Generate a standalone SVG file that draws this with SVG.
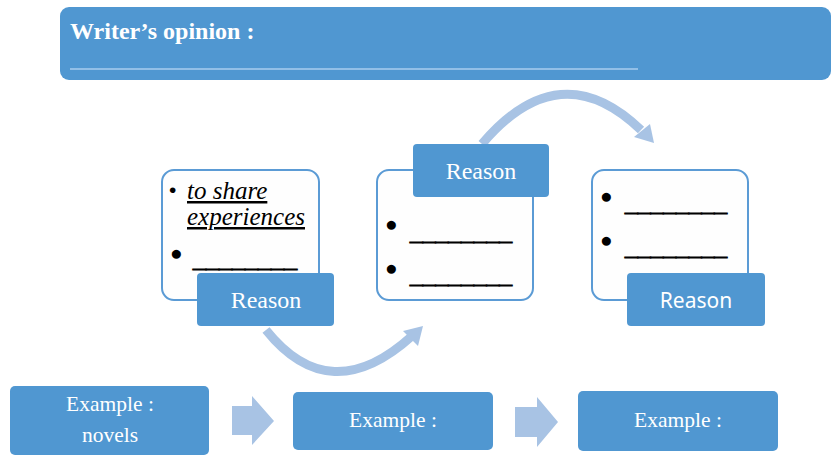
<svg xmlns="http://www.w3.org/2000/svg" width="831" height="457" viewBox="0 0 831 457">
<style>
.blue{fill:#5097d1;}
.card{fill:#fefefe;stroke:#5b9bd5;stroke-width:2;}
.wt{fill:#ffffff;font-family:"Liberation Serif",serif;font-size:24px;text-anchor:middle;}
.ex{fill:#ffffff;font-family:"Liberation Serif",serif;font-size:21.5px;text-anchor:middle;}
.ws{fill:#ffffff;font-family:"Noto Sans","Open Sans",sans-serif;font-size:21px;text-anchor:middle;}
.bul{fill:#000;font-family:"Liberation Sans",sans-serif;font-size:21px;}
.ln{fill:#000;stroke:#000;stroke-width:1.2;font-family:"Liberation Sans",sans-serif;font-size:23px;font-weight:bold;}
.it{fill:#000;font-family:"Liberation Serif",serif;font-style:italic;font-size:25px;text-decoration:underline;}
.arc{fill:none;stroke:#a8c3e4;stroke-width:9;}
.ah{fill:#a8c3e4;}
</style>
<rect width="831" height="457" fill="#ffffff"/>
<g id="opinion">
<rect class="blue" x="60" y="7" width="771" height="73" rx="9"/>
<text x="70" y="39" fill="#fff" font-family="Liberation Serif,serif" font-size="24" font-weight="bold">Writer’s  opinion :</text>
<line x1="70" y1="69" x2="638" y2="69" stroke="#a9cdee" stroke-width="1.5"/>
</g>
<g id="connectors">
<path class="arc" d="M266,330 Q330,410 412,336"/>
<polygon class="ah" points="423,326 403,331 418,346"/>
<path class="arc" d="M482,144 Q560,52 641,130"/>
<polygon class="ah" points="654,143 634,137 650,124"/>
<polygon class="ah" points="232,406 252,406 252,396 274,421 252,445 252,435 232,435"/>
<polygon class="ah" points="515,407 537,407 537,397 558,422 537,447 537,437 515,437"/>
</g>
<g id="reason1">
<rect class="card" x="162" y="170" width="157" height="130" rx="12"/>
<text x="169" y="197" class="bul" font-size="16">•</text>
<text x="187" y="199" class="it">to share</text>
<text x="187" y="225" class="it">experiences</text>
<text x="170" y="260" class="bul">●</text>
<text x="193" y="267" class="ln" textLength="104" lengthAdjust="spacingAndGlyphs">________</text>
<rect class="blue" x="197" y="273" width="137" height="53" rx="4"/>
<text x="266" y="308" class="wt">Reason</text>
</g>
<g id="reason2">
<rect class="card" x="377" y="170" width="156" height="130" rx="12"/>
<text x="385" y="231" class="bul">●</text>
<text x="410" y="240" class="ln" textLength="102" lengthAdjust="spacingAndGlyphs">________</text>
<text x="385" y="275" class="bul">●</text>
<text x="410" y="283" class="ln" textLength="102" lengthAdjust="spacingAndGlyphs">________</text>
<rect class="blue" x="413" y="144" width="136" height="53" rx="4"/>
<text x="481" y="179" class="wt">Reason</text>
</g>
<g id="reason3">
<rect class="card" x="592" y="170" width="156" height="130" rx="12"/>
<text x="600" y="203" class="bul">●</text>
<text x="625" y="211" class="ln" textLength="102" lengthAdjust="spacingAndGlyphs">________</text>
<text x="600" y="247" class="bul">●</text>
<text x="625" y="255" class="ln" textLength="102" lengthAdjust="spacingAndGlyphs">________</text>
<rect class="blue" x="627" y="273" width="138" height="53" rx="4"/>
<text x="696" y="308" class="ws">Reason</text>
</g>
<g id="example1">
<rect class="blue" x="10" y="386" width="199" height="69" rx="5"/>
<text x="110" y="411" class="ex">Example :</text>
<text x="110" y="442" class="ex">novels</text>
</g>
<g id="example2">
<rect class="blue" x="293" y="392" width="200" height="58" rx="5"/>
<text x="393" y="427" class="ex">Example :</text>
</g>
<g id="example3">
<rect class="blue" x="578" y="391" width="200" height="60" rx="5"/>
<text x="678" y="427" class="ex">Example :</text>
</g>
</svg>
